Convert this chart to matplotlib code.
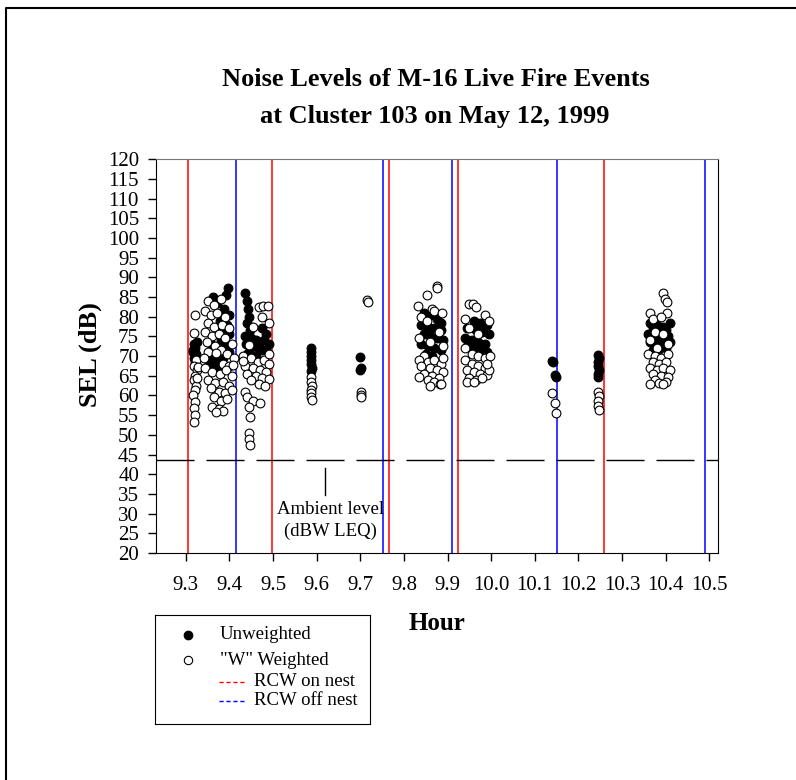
import matplotlib
matplotlib.use('Agg')
import matplotlib.pyplot as plt
from matplotlib.lines import Line2D

plt.rcParams['font.family'] = ['Liberation Serif', 'DejaVu Serif']

# unweighted SEL (filled circles)
unw_hour = [9.318, 9.322, 9.316, 9.324, 9.319, 9.321, 9.317, 9.325,
            9.397, 9.392, 9.363, 9.372, 9.388, 9.398, 9.378, 9.395, 9.385, 9.37, 9.4, 9.38,
            9.357, 9.39, 9.36, 9.365, 9.355, 9.37, 9.362, 9.375, 9.35, 9.4, 9.385,
            9.436, 9.44, 9.443, 9.445, 9.44, 9.447, 9.475, 9.485, 9.435, 9.45, 9.46, 9.47,
            9.48, 9.49, 9.438, 9.455, 9.465, 9.475, 9.445, 9.485, 9.44, 9.46,
            9.587, 9.588, 9.586, 9.588, 9.587, 9.589, 9.586,
            9.70, 9.702, 9.699,
            9.845, 9.86, 9.875, 9.885, 9.84, 9.855, 9.87, 9.885, 9.845, 9.86, 9.875, 9.89,
            9.84, 9.855, 9.87, 9.885, 9.85, 9.865,
            9.96, 9.975, 9.99, 9.945, 9.965, 9.98, 9.995, 9.94, 9.955, 9.97, 9.985, 9.945,
            9.96, 9.975, 9.99,
            10.139, 10.142, 10.147, 10.148,
            10.246, 10.247, 10.245, 10.246, 10.247, 10.245, 10.246,
            10.365, 10.38, 10.395, 10.41, 10.37, 10.385, 10.4, 10.36, 10.375, 10.39, 10.405,
            10.365, 10.38, 10.395, 10.37, 10.385, 10.4, 10.41]
unw_sel = [73, 72, 71, 70.5, 69.5, 68.5, 71.5, 73.5,
           87.2, 85.5, 85, 83.5, 82, 80.5, 79, 78, 76.5, 77, 75.5, 74,
           73, 72.5, 70, 69, 68.2, 68.5, 67.5, 67, 69, 71, 69.5,
           86, 84, 82, 80, 78.5, 76.5, 77, 75.5, 75, 74.5, 74, 73.5,
           74, 73, 73, 72.5, 72, 71.5, 71, 71.5, 70.5, 70,
           72, 71, 70, 69, 68, 67, 66.2,
           69.8, 67, 66.4,
           81, 80.5, 79.5, 78.5, 78, 77.5, 77, 76.5, 75.5, 75, 74.5, 74,
           73, 72.5, 72, 71.5, 70.5, 70,
           79, 78.5, 78, 77, 76.5, 76, 75.5, 74.5, 74, 73.5, 73, 72.5,
           72, 71.5, 71,
           68.8, 68.6, 65.2, 64.8,
           70.3, 69.5, 68.5, 67.5, 66.5, 65.5, 64.7,
           78.5, 78, 77.5, 78.5, 77, 76.5, 76.5, 75.5, 75, 74.5, 75,
           73.5, 73, 72.5, 71.5, 71.8, 72, 73.5]

# "W" weighted SEL (open circles)
w_hour = [9.322, 9.318, 9.323, 9.319, 9.325, 9.321, 9.318, 9.324, 9.32, 9.317, 9.321,
          9.319, 9.32, 9.318, 9.326, 9.327,
          9.35, 9.365, 9.38, 9.345, 9.358, 9.372, 9.39, 9.35, 9.365, 9.382, 9.398, 9.345,
          9.36, 9.375, 9.39, 9.405, 9.348, 9.366, 9.38, 9.395, 9.352, 9.37, 9.41, 9.385,
          9.4, 9.345, 9.36, 9.378, 9.392, 9.405, 9.35, 9.368, 9.385, 9.4, 9.357, 9.375,
          9.39, 9.405, 9.365, 9.38, 9.395, 9.36, 9.375, 9.385, 9.37, 9.408, 9.342,
          9.468, 9.478, 9.488, 9.475, 9.455, 9.49, 9.445, 9.43, 9.45, 9.465, 9.48, 9.49,
          9.435, 9.455, 9.47, 9.485, 9.44, 9.46, 9.475, 9.49, 9.45, 9.468, 9.482, 9.436,
          9.44, 9.455, 9.47, 9.445, 9.447, 9.445, 9.446, 9.447, 9.49, 9.432,
          9.588, 9.587, 9.589, 9.588, 9.587, 9.588, 9.589,
          9.716, 9.717, 9.701, 9.702, 9.701,
          9.876, 9.877, 9.853, 9.833, 9.865, 9.84, 9.87, 9.888, 9.853, 9.88, 9.835, 9.89,
          9.86, 9.845, 9.835, 9.855, 9.87, 9.885, 9.84, 9.86, 9.875, 9.89, 9.845, 9.865,
          9.88, 9.835, 9.855, 9.87, 9.882, 9.86, 9.89, 9.885,
          9.95, 9.958, 9.965, 9.985, 9.94, 9.95, 9.97, 9.995, 9.94, 9.955, 9.97, 9.985,
          9.997, 9.94, 9.955, 9.97, 9.985, 9.945, 9.96, 9.975, 9.99, 9.95, 9.965, 9.98,
          9.945, 9.96, 9.995, 9.99,
          10.139, 10.147, 10.148,
          10.246, 10.247, 10.245, 10.246, 10.247,
          10.395, 10.398, 10.404, 10.403, 10.363, 10.37, 10.39, 10.375, 10.395, 10.365,
          10.38, 10.405, 10.36, 10.375, 10.39, 10.405, 10.37, 10.385, 10.4, 10.365, 10.38,
          10.395, 10.41, 10.37, 10.39, 10.405, 10.375, 10.385, 10.4, 10.365, 10.395]
w_sel = [80.4, 75.9, 69, 67.5, 66.4, 65, 63.9, 62.5, 61.4, 60, 58.4,
         56.8, 55, 53.2, 64.5, 67.2,
         84, 83, 84.5, 81.5, 80.5, 81, 80, 78.5, 77.5, 77.8, 77, 76,
         75, 75.5, 74.5, 73, 73.5, 72.5, 71.5, 70.5, 71, 70.8, 69.5, 68,
         67.5, 67, 66, 65.5, 66.5, 65, 64, 63.2, 63.5, 62.5, 62, 61,
         60.5, 61.5, 59.5, 58.5, 59, 57, 56.5, 56, 55.7, 67.8, 69.5,
         82.4, 82.8, 82.6, 80, 77.5, 78.5, 72.7, 70, 69.5, 68.5, 69, 68,
         67.5, 67, 66.5, 66, 65.5, 65, 64.5, 64.2, 63.8, 63, 62.5, 61,
         59.6, 58.5, 58, 57, 54.5, 50.5, 49, 47.5, 70.5, 68.8,
         64.7, 63.5, 62.5, 61.5, 60.5, 59.5, 58.8,
         84.2, 83.8, 61, 60, 59.5,
         87.8, 87.3, 85.5, 82.7, 82, 80, 81.5, 81, 78.8, 76, 74.5, 72.5,
         73.5, 70, 69, 68.5, 69, 68, 67.5, 67, 66.5, 66, 65.5, 65,
         64.5, 64.8, 64, 63.5, 63, 62.5, 69.5, 62.8,
         83.3, 83.2, 82.5, 80.5, 79.5, 77, 75.5, 79, 72, 70.5, 70, 69.5,
         70, 69, 68, 67.5, 67, 66.5, 66, 65.5, 65.2, 64.5, 64, 64.5,
         63.5, 63.3, 66.5, 68,
         60.7, 58.1, 55.5,
         61, 59.8, 58.5, 57.3, 56.2,
         86, 84.5, 83.7, 81, 80.9, 79.5, 79.8, 76, 75.5, 74,
         72, 73, 70.5, 70, 69.5, 70.5, 68.5, 68, 68.5, 67, 66.5,
         67, 66.5, 65.5, 65, 64.8, 64, 63.2, 63.5, 63, 62.8]

# bird nest observations
on_nest = [9.306, 9.497, 9.766, 9.925, 10.259]
off_nest = [9.415, 9.752, 9.911, 10.151, 10.491]
ambient = 43.5

y_ticks = list(range(20, 121, 5))
x_ticks = [9.3, 9.4, 9.5, 9.6, 9.7, 9.8, 9.9, 10.0, 10.1, 10.2, 10.3, 10.4, 10.5]
x_labels = ['%.1f' % t for t in x_ticks]

fig = plt.figure(figsize=(7.96, 7.80), dpi=100)
ax = fig.add_axes([0.1956, 0.291, 0.7064, 0.505])

for x in on_nest:
    ax.axvline(x, color='#ff0000', lw=1.1, zorder=1)
for x in off_nest:
    ax.axvline(x, color='#0000ff', lw=1.1, zorder=1)

ax.axhline(ambient, color='black', lw=1.0, dashes=(27.4, 8.6), zorder=1)

ax.scatter(unw_hour, unw_sel, s=40, c='black', edgecolors='black', linewidths=0.8, zorder=3)
ax.scatter(w_hour, w_sel, s=40, c='white', edgecolors='black', linewidths=0.8, zorder=4)

# ambient level label with pointer tick
ax.plot([9.62, 9.62], [41.6, 34.7], color='black', lw=1)
ax.text(9.631, 28.3, 'Ambient level\n(dBW LEQ)', ha='center', va='center',
        fontsize=13.5, linespacing=1.35)

ax.set_xlim(9.231, 10.52)
ax.set_ylim(20, 120)
ax.set_yticks(y_ticks)
ax.set_xticks(x_ticks)
ax.set_xticklabels(x_labels)
ax.tick_params(axis='both', direction='out', length=6, width=1, labelsize=15)
ax.tick_params(axis='x', pad=10.5)
ax.tick_params(axis='y', pad=6)
ax.spines['top'].set_color('#777777')

fig.text(0.548, 0.8897, 'Noise Levels of M-16 Live Fire Events', ha='center', va='baseline',
         fontsize=19, fontweight='bold')
fig.text(0.546, 0.8423, 'at Cluster 103 on May 12, 1999', ha='center', va='baseline',
         fontsize=19, fontweight='bold')
fig.text(0.113, 0.545, 'SEL (dB)', rotation=90, ha='center', va='center',
         fontsize=19, fontweight='bold')
fig.text(0.549, 0.200, 'Hour', ha='center', va='center', fontsize=18, fontweight='bold')

# legend box
lg = fig.add_axes([0.1947, 0.0718, 0.270, 0.1397])
lg.set_xlim(0, 1)
lg.set_ylim(0, 1)
lg.set_xticks([])
lg.set_yticks([])
lg.plot([0.155], [0.817], 'o', ms=6, mfc='black', mec='black')
lg.plot([0.155], [0.587], 'o', ms=6, mfc='white', mec='black', mew=0.8)
lg.plot([0.298, 0.419], [0.388, 0.388], color='#ff0000', lw=1, dashes=(3, 2))
lg.plot([0.298, 0.419], [0.214, 0.214], color='#0000ff', lw=1, dashes=(3, 2))
lg.text(0.302, 0.817, 'Unweighted', va='center', fontsize=13.5)
lg.text(0.302, 0.587, '"W" Weighted', va='center', fontsize=13.5)
lg.text(0.46, 0.388, 'RCW on nest', va='center', fontsize=13.5)
lg.text(0.46, 0.214, 'RCW off nest', va='center', fontsize=13.5)

# page border (top and left edges)
fig.add_artist(Line2D([0.0075, 0.0075, 1.0], [0.0, 0.99, 0.99], color='black', lw=1.5,
                      transform=fig.transFigure))

fig.savefig('out.png', dpi=100)
